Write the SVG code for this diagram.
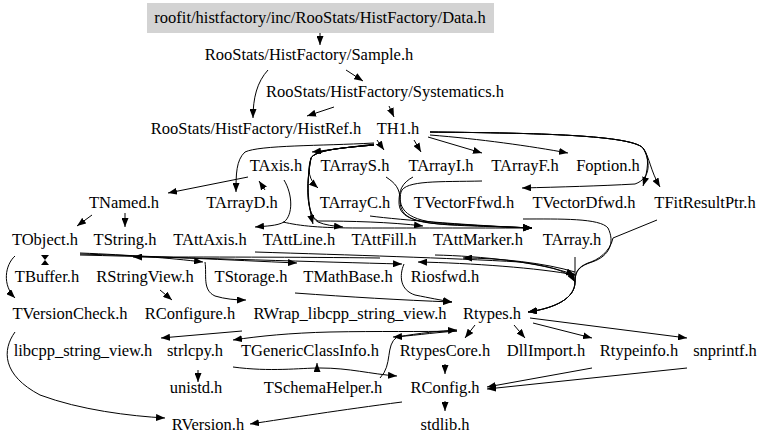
<svg xmlns="http://www.w3.org/2000/svg" width="768" height="446" viewBox="0 0 768 446">
<style>
text{font-family:"Liberation Serif","Times New Roman",serif;font-size:16.5px;fill:#000;text-anchor:middle}
.e{fill:none;stroke:#000;stroke-width:1;marker-end:url(#ah)}
.h{fill:#000;stroke:none}
</style>
<defs>
<marker id="ah" markerUnits="userSpaceOnUse" markerWidth="9" markerHeight="7" refX="9" refY="3.5" orient="auto">
<path d="M0,0 L9,3.5 L0,7 z" fill="#000"/>
</marker>
</defs>
<rect width="768" height="446" fill="#fff"/>
<g id="connectors">
<path class="e" d="M320,33 L320,45"/>
<path class="e" d="M346,70 L363,81"/>
<path class="e" d="M268,70 C257,82 253,98 253,118"/>
<path class="e" d="M334,107 L307,116"/>
<path class="e" d="M389,106 L394,117"/>
<path class="e" d="M374,144 L312,152"/>
<path class="e" d="M377,140 L384,150"/>
<path class="e" d="M414,140 L421,152"/>
<path class="e" d="M428,137 L482,153"/>
<path class="e" d="M430,135 C480,139 530,146 568,153"/>
<path class="e" d="M430,132 C520,133 630,134 643,148 C650,156 648,170 643,186"/>
<path class="e" d="M430,132 C520,133 630,134 643,148 C650,158 650,170 660,187"/>
<path class="e" d="M430,132 C520,133 630,134 643,148 C650,160 652,178 635,184 C600,186 560,187 522,188"/>
<path class="e" d="M374,143 C320,146 260,145 245,152 C236,160 236,175 236,192"/>
<path class="e" d="M374,145 C340,148 316,150 311,158 C307,170 309,180 318,188"/>
<path class="e" d="M374,145 C340,148 316,150 311,158 C306,180 308,205 313,224"/>
<path class="e" d="M374,145 C340,148 316,150 311,158 C306,185 306,215 318,222 C325,225 333,226 343,227"/>
<path class="e" d="M374,145 C340,148 316,150 311,158 C306,185 306,215 318,221 C350,221 390,222 423,226"/>
<path class="e" d="M248,177 L168,193"/>
<path class="e" d="M265,190 L259,181"/>
<path class="e" d="M284,180 C293,195 293,215 284,222 C277,226 266,226 255,227"/>
<path class="e" d="M283,222 C300,226 320,228 360,228 C420,228 490,228 532,228"/>
<path class="e" d="M386,177 C395,183 400,188 400,200 C400,214 408,222 440,224 C480,226 510,227 532,228"/>
<path class="e" d="M413,177 C402,183 399,190 399,202 C399,216 410,222 450,225 C490,227 515,227 532,228"/>
<path class="e" d="M482,181 C440,182 405,180 401,192 C398,205 402,220 440,223 C480,226 510,227 532,228"/>
<path class="e" d="M370,216 C400,220 480,226 532,228"/>
<path class="e" d="M523,219 C560,219 600,218 608,228 C615,242 610,256 592,262 C580,266 575,270 575,282 C575,298 556,308 528,312"/>
<path class="e" d="M657,220 L613,238 C610,252 598,260 588,263 C578,267 575,272 575,282 C575,298 556,308 528,312"/>
<path class="e" d="M575,257 L575,282 C575,298 556,308 528,312"/>
<path class="e" d="M255,252 C350,255 450,258 520,262 C548,266 568,270 575,282"/>
<path class="e" d="M435,255 C480,256 540,262 575,275"/>
<path class="e" d="M575,272 C545,263 500,258 463,258"/>
<path class="e" d="M575,275 C540,268 470,263 418,262"/>
<path class="e" d="M80,253 C130,255 170,258 203,262"/>
<path class="e" d="M80,254 C150,256 230,260 297,263"/>
<path class="e" d="M80,255 C200,258 320,262 402,264"/>
<path class="e" d="M380,258 C300,257 200,257 133,257"/>
<path class="e" d="M92,215 L77,226"/>
<path class="e" d="M125,213 L125,227"/>
<polygon class="h" points="41,255 49,255 45,260"/>
<polygon class="h" points="41,265 49,265 45,260"/>
<path class="e" d="M15,256 C5,265 2,285 15,298"/>
<path class="e" d="M160,290 L172,300"/>
<path class="e" d="M205,262 C207,275 202,290 215,296 C225,299 235,300 246,300"/>
<path class="e" d="M295,293 C350,297 400,300 452,302"/>
<path class="e" d="M404,264 C399,276 400,290 415,295 C430,298 440,300 452,302"/>
<path class="e" d="M242,331 L161,338"/>
<path class="e" d="M457,331 C420,332 380,331 330,332 C290,333 260,336 233,340"/>
<path class="e" d="M380,378 C393,365 385,345 397,337 C420,333 440,331 457,330"/>
<path class="e" d="M457,331 C430,333 410,336 393,337"/>
<path class="e" d="M233,367 C270,372 300,368 320,368 C350,368 370,374 397,376"/>
<path class="e" d="M317,372 L317,363"/>
<path class="e" d="M475,325 L465,338"/>
<path class="e" d="M514,325 L525,338"/>
<path class="e" d="M533,323 L592,338"/>
<path class="e" d="M530,318 L687,338"/>
<path class="e" d="M198,370 L198,382"/>
<path class="e" d="M15,332 C2,350 2,375 40,395 C80,410 130,416 165,418"/>
<path class="e" d="M402,402 C340,410 290,418 250,424"/>
<path class="e" d="M445,364 L445,374"/>
<path class="e" d="M445,401 L445,411"/>
<path class="e" d="M592,368 L487,387"/>
<path class="e" d="M687,368 L487,389"/>
</g>
<g id="n_data"><rect x="147" y="3" width="347" height="30" fill="#d3d3d3"/><text x="320" y="23">roofit/histfactory/inc/RooStats/HistFactory/Data.h</text></g>
<g id="n_sample"><text x="309" y="60">RooStats/HistFactory/Sample.h</text></g>
<g id="n_systematics"><text x="385" y="97">RooStats/HistFactory/Systematics.h</text></g>
<g id="n_histref"><text x="256" y="134">RooStats/HistFactory/HistRef.h</text></g>
<g id="n_th1"><text x="398" y="134">TH1.h</text></g>
<g id="n_taxis"><text x="276" y="171">TAxis.h</text></g>
<g id="n_tarrays"><text x="355" y="171">TArrayS.h</text></g>
<g id="n_tarrayi"><text x="441" y="171">TArrayI.h</text></g>
<g id="n_tarrayf"><text x="525" y="171">TArrayF.h</text></g>
<g id="n_foption"><text x="608" y="171">Foption.h</text></g>
<g id="n_tnamed"><text x="124" y="208">TNamed.h</text></g>
<g id="n_tarrayd"><text x="242" y="208">TArrayD.h</text></g>
<g id="n_tarrayc"><text x="355" y="208">TArrayC.h</text></g>
<g id="n_tvectorffwd"><text x="464" y="208">TVectorFfwd.h</text></g>
<g id="n_tvectordfwd"><text x="584" y="208">TVectorDfwd.h</text></g>
<g id="n_tfitresultptr"><text x="705" y="208">TFitResultPtr.h</text></g>
<g id="n_tobject"><text x="45" y="245">TObject.h</text></g>
<g id="n_tstring"><text x="125" y="245">TString.h</text></g>
<g id="n_tattaxis"><text x="210" y="245">TAttAxis.h</text></g>
<g id="n_tattline"><text x="299" y="245">TAttLine.h</text></g>
<g id="n_tattfill"><text x="384" y="245">TAttFill.h</text></g>
<g id="n_tattmarker"><text x="478" y="245">TAttMarker.h</text></g>
<g id="n_tarray"><text x="572" y="245">TArray.h</text></g>
<g id="n_tbuffer"><text x="47" y="282">TBuffer.h</text></g>
<g id="n_rstringview"><text x="145" y="282">RStringView.h</text></g>
<g id="n_tstorage"><text x="251" y="282">TStorage.h</text></g>
<g id="n_tmathbase"><text x="348" y="282">TMathBase.h</text></g>
<g id="n_riosfwd"><text x="445" y="282">Riosfwd.h</text></g>
<g id="n_tversioncheck"><text x="70" y="319">TVersionCheck.h</text></g>
<g id="n_rconfigure"><text x="190" y="319">RConfigure.h</text></g>
<g id="n_rwrap"><text x="350" y="319">RWrap_libcpp_string_view.h</text></g>
<g id="n_rtypes"><text x="492" y="319">Rtypes.h</text></g>
<g id="n_libcpp"><text x="83" y="356">libcpp_string_view.h</text></g>
<g id="n_strlcpy"><text x="195" y="356">strlcpy.h</text></g>
<g id="n_tgenericclassinfo"><text x="310" y="356">TGenericClassInfo.h</text></g>
<g id="n_rtypescore"><text x="445" y="356">RtypesCore.h</text></g>
<g id="n_dllimport"><text x="546" y="356">DllImport.h</text></g>
<g id="n_rtypeinfo"><text x="639" y="356">Rtypeinfo.h</text></g>
<g id="n_snprintf"><text x="725" y="356">snprintf.h</text></g>
<g id="n_unistd"><text x="196" y="393">unistd.h</text></g>
<g id="n_tschemahelper"><text x="323" y="393">TSchemaHelper.h</text></g>
<g id="n_rconfig"><text x="445" y="393">RConfig.h</text></g>
<g id="n_rversion"><text x="208" y="430">RVersion.h</text></g>
<g id="n_stdlib"><text x="445" y="430">stdlib.h</text></g>
</svg>
